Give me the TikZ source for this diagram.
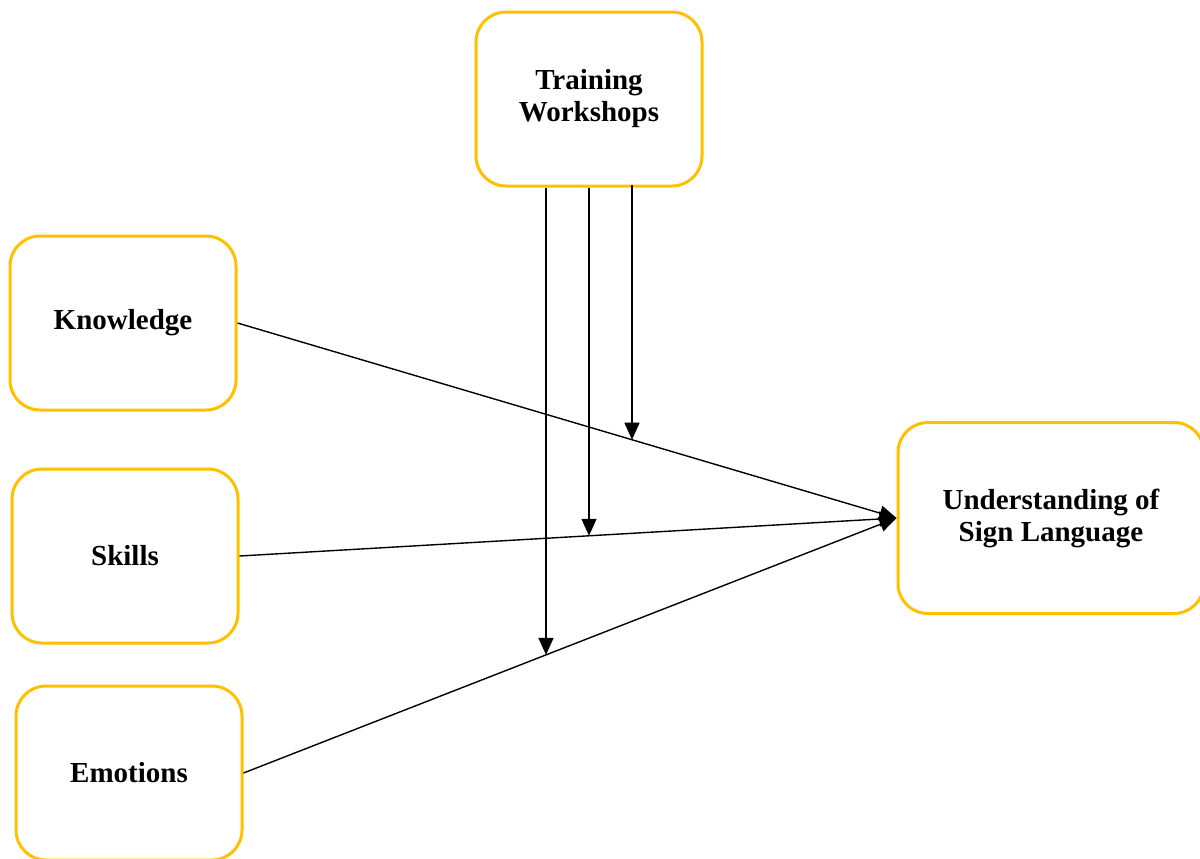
\documentclass[tikz,border=0pt]{standalone}
\usepackage{fontspec}
\setmainfont{Liberation Serif}
\usetikzlibrary{arrows.meta,positioning,calc,intersections}
\definecolor{boxyellow}{RGB}{255,192,0}
\tikzset{
	factor/.style={draw=boxyellow, line width=1.5pt, rounded corners=15pt, align=center, minimum height=87pt, minimum width=113pt, font=\fontsize{14.5}{16}\selectfont\bfseries},
	outcome/.style={factor, minimum height=95.5pt, minimum width=153pt},
	flow/.style={-{Triangle[length=8.5pt,width=7.5pt]}, line width=0.7pt}
}

\begin{document}
\begin{tikzpicture}[x=0.5pt, y=-0.5pt]
	\useasboundingbox (0,0) rectangle (1200,858);
	\node[factor] (train) at (589,99) {Training\\Workshops};
	\node[factor] (know) at (123,323) {Knowledge};
	\node[factor] (skill) at (125,556) {Skills};
	\node[factor] (emo) at (129,773) {Emotions};
	\node[outcome] (und) at (1051,518) {Understanding of\\Sign Language};

	\draw[flow, name path=kline] (know.east) -- (und.west);
	\draw[flow, name path=sline] (skill.east) -- (und.west);
	\draw[flow, name path=eline] (emo.east) -- (und.west);

	% moderating arrows from the workshops
	\path[name path=v1] ($(train.south)+(43,-3)$) -- ++(0,400);
	\path[name path=v2] (train.south) -- ++(0,400);
	\path[name path=v3] ($(train.south)+(-43,0)$) -- ++(0,600);
	\path[name intersections={of=v1 and kline, by=mk}];
	\path[name intersections={of=v2 and sline, by=ms}];
	\path[name intersections={of=v3 and eline, by=me}];
	\draw[flow] ($(train.south)+(43,-3)$) -- (mk);
	\draw[flow] (train.south) -- (ms);
	\draw[flow] ($(train.south)+(-43,0)$) -- (me);
\end{tikzpicture}
\end{document}
